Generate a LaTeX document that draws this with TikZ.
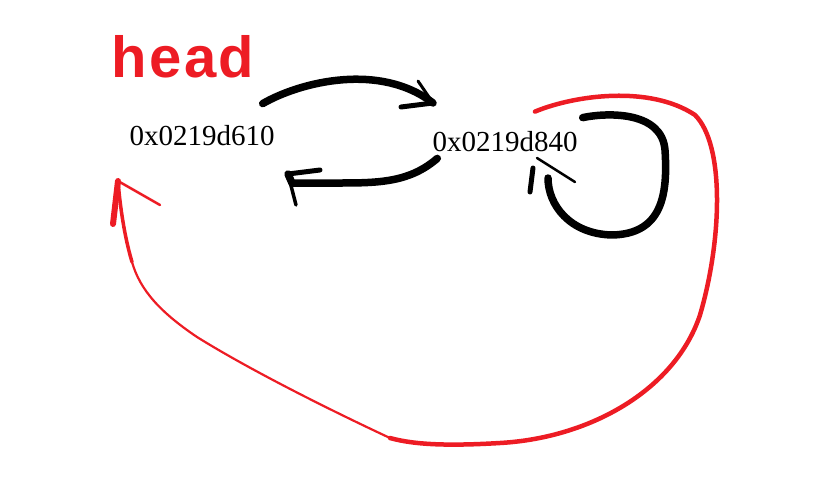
\documentclass[tikz,border=0pt]{standalone}
\usepackage{fontspec}
\setmainfont{Liberation Serif}
\newfontfamily\handfont[LetterSpace=4]{Liberation Sans}
\definecolor{inkred}{RGB}{237,28,36}
\begin{document}
\begin{tikzpicture}[line cap=round,line join=round,x=1pt,y=-1pt,
  addr/.style={inner sep=0pt,font=\fontsize{29}{30}\selectfont},
  blackink/.style={line width=7.5pt,color=black},
  redink/.style={line width=4.5pt,color=inkred}]
  \useasboundingbox (0,0) rectangle (828,498);
  % labels
  \node[inner sep=0pt,color=inkred,font=\handfont\bfseries\fontsize{58}{58}\selectfont] (head) at (183,57) {head};
  \node[addr] (n1) at (202,136) {0x0219d610};
  \node[addr] (n2) at (505,142) {0x0219d840};
  % n1 -> n2
  \coordinate (t12) at (433,103);
  \draw[blackink] ([shift={(-12,-22)}]n1.north east) .. controls (300,82) and (380,62) .. (t12);
  \draw[blackink,line width=5pt] (t12) -- (401,107);
  \draw[blackink,line width=3pt] (t12) -- (418,81);
  % n2 -> n1
  \coordinate (t21) at (288,174);
  \draw[blackink] ([shift={(5,6)}]n2.south west) .. controls (410,182) and (380,183) .. (340,183) -- (292,183) -- (t21);
  \draw[blackink,line width=5pt] (t21) -- (320,170);
  \draw[blackink,line width=3.5pt] (t21) -- (296,205);
  % n2 -> n2
  \coordinate (t22) at (537,158);
  \draw[blackink] ([shift={(5,-14)}]n2.north east) .. controls (610,112) and (662,112) .. (665,150)
    .. controls (668,195) and (662,234) .. (612,235)
    .. controls (570,234) and (548,205) .. (548,178);
  \draw[blackink,line width=2.5pt] (t22) -- (575,182);
  \draw[blackink,line width=5pt] (533,168) -- (530,192);
  % tail -> head
  \coordinate (tail) at (118,181);
  \draw[redink] ([shift={(30,-20)}]n2.north) .. controls (575,95) and (650,85) .. (695,115)
    .. controls (725,145) and (722,240) .. (700,315)
    .. controls (675,390) and (590,438) .. (500,443)
    .. controls (450,446) and (415,445) .. (390,438);
  \draw[redink,line width=2.2pt] (390,438) .. controls (330,410) and (250,370) .. (197,337)
    .. controls (160,312) and (140,290) .. (132,262);
  \draw[redink,line width=3.5pt] (132,262) .. controls (124,235) and (120,205) .. (tail);
  \draw[redink,line width=2.5pt] (tail) -- (160,205);
  \draw[redink,line width=6pt] (tail) -- (113,224);
\end{tikzpicture}
\end{document}
